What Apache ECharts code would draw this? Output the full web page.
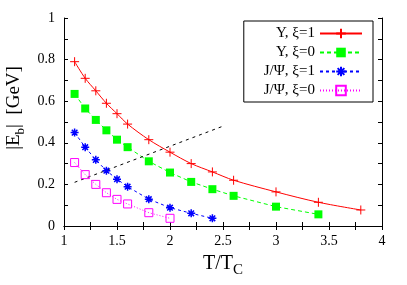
<!DOCTYPE html>
<html><head><meta charset="utf-8">
<script src="https://cdn.jsdelivr.net/npm/echarts@6/dist/echarts.min.js"></script>
<style>html,body{margin:0;padding:0;background:#fff}#c{width:407px;height:285px}</style>
</head><body><div id="c"></div>
<script>
// Data
const tUps1 = [1.1,1.2,1.3,1.4,1.5,1.6,1.8,2.0,2.2,2.4,2.6,3.0,3.4,3.8];
const eUps1 = [0.79,0.71,0.65,0.59,0.54,0.49,0.415,0.355,0.30,0.26,0.22,0.164,0.114,0.077];
const tUps0 = [1.1,1.2,1.3,1.4,1.5,1.6,1.8,2.0,2.2,2.4,2.6,3.0,3.4];
const eUps0 = [0.635,0.565,0.51,0.46,0.415,0.379,0.311,0.257,0.212,0.177,0.145,0.093,0.056];
const tJpsi1 = [1.1,1.2,1.3,1.4,1.5,1.6,1.8,2.0,2.2,2.4];
const eJpsi1 = [0.449,0.379,0.318,0.266,0.225,0.189,0.129,0.088,0.061,0.037];
const tJpsi0 = [1.1,1.2,1.3,1.4,1.5,1.6,1.8,2.0];
const eJpsi0 = [0.305,0.247,0.20,0.16,0.128,0.106,0.064,0.037];
const tDiss = [1.1,2.5];
const eDiss = [0.21,0.48];
const names = ['Y, ξ=1','Y, ξ=0','J/Ψ, ξ=1','J/Ψ, ξ=0'];

const zip = (a,b) => a.map((v,i)=>[v,b[i]]);
const F = 'Liberation Serif';
const xLab = v => { const r = Math.round(v*4); return r%2===0 ? String(Math.round(v*2)/2) : ''; };
const yLab = v => { const r = Math.round(v*10); if (r%2) return ''; return r===0?'0':r===10?'1':(r/10).toFixed(1); };

const plus = 'path://M0,5L10,5M5,0L5,10';
const star = 'path://M0,5L10,5M5,0L5,10M1.5,1.5L8.5,8.5M1.5,8.5L8.5,1.5';

const baseX = {type:'value',min:1,max:4,interval:0.25,splitLine:{show:false},
  axisLine:{lineStyle:{color:'#000',width:1}},axisTick:{inside:true,length:4,lineStyle:{color:'#000'}}};
const baseY = {type:'value',min:0,max:1,interval:0.1,splitLine:{show:false},
  axisLine:{lineStyle:{color:'#000',width:1}},axisTick:{inside:true,length:4,lineStyle:{color:'#000'}}};

const chart = echarts.init(document.getElementById('c'));
chart.setOption({
  animation:false,
  grid:{left:64,top:18,right:25,bottom:59,containLabel:false,outerBoundsMode:'none'},
  xAxis:[
    Object.assign({},baseX,{position:'bottom',axisLabel:{formatter:xLab,color:'#000',fontFamily:F,fontSize:14,margin:8},
      name:'{a|T/T}{b|C}',nameLocation:'middle',nameGap:20,
      nameTextStyle:{rich:{a:{fontFamily:F,fontSize:20,color:'#000',lineHeight:28,verticalAlign:'middle'},
                           b:{fontFamily:F,fontSize:15,color:'#000',lineHeight:28,verticalAlign:'bottom',padding:[10,0,0,0]}}}}),
    Object.assign({},baseX,{position:'top',axisLabel:{show:false}})
  ],
  yAxis:[
    Object.assign({},baseY,{position:'left',axisLabel:{formatter:yLab,color:'#000',fontFamily:F,fontSize:14,margin:9},
      name:'{a||E}{b|b}{a||  [GeV]}',nameLocation:'middle',nameGap:37,
      nameTextStyle:{padding:[0,0,0,28],
        rich:{a:{fontFamily:F,fontSize:19,color:'#000',lineHeight:26,verticalAlign:'middle'},
              b:{fontFamily:F,fontSize:13,color:'#000',lineHeight:26,verticalAlign:'bottom',padding:[8,0,0,0]}}}}),
    Object.assign({},baseY,{position:'right',axisLabel:{show:false}})
  ],
  legend:{
    orient:'vertical',right:34,top:21,align:'right',
    padding:[5,10,4,20],itemGap:4,itemWidth:42,itemHeight:12,
    borderColor:'#000',borderWidth:1,borderRadius:0,
    data:names,
    textStyle:{fontFamily:F,fontSize:15,color:'#000'}
  },
  series:[
    {name:names[0],type:'line',data:zip(tUps1,eUps1),smooth:0.3,symbol:plus,symbolSize:9,
      lineStyle:{color:'#ff0000',width:1,type:'solid'},itemStyle:{color:'#ff0000',borderColor:'#ff0000',borderWidth:1}},
    {name:names[1],type:'line',data:zip(tUps0,eUps0),symbol:'rect',symbolSize:8,
      lineStyle:{color:'#00ff00',width:1,type:[4,3]},itemStyle:{color:'#00ff00'}},
    {name:names[2],type:'line',data:zip(tJpsi1,eJpsi1),symbol:star,symbolSize:8,
      lineStyle:{color:'#0000ff',width:1,type:[3,3]},itemStyle:{color:'#0000ff',borderColor:'#0000ff',borderWidth:1.5}},
    {name:names[3],type:'line',data:zip(tJpsi0,eJpsi0),symbol:'rect',symbolSize:8,
      lineStyle:{color:'#ff00ff',width:1,type:[1,2]},itemStyle:{color:'rgba(0,0,0,0)',borderColor:'#ff00ff',borderWidth:1}},
    {name:'diss',type:'line',data:zip(tDiss,eDiss),symbol:'none',
      lineStyle:{color:'#000',width:1,type:[3,4]}}
  ]
});
</script></body></html>
